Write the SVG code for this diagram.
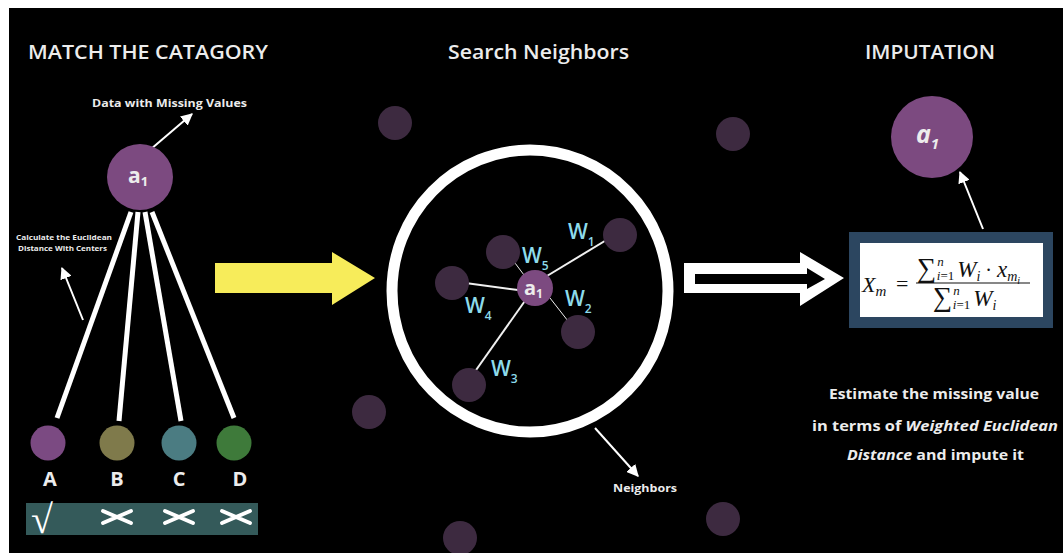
<svg xmlns="http://www.w3.org/2000/svg" width="1063" height="553" viewBox="0 0 1063 553">
<defs>
<style>
.t{font-family:"Open Sans","Liberation Sans",sans-serif;font-weight:700;fill:#ececec}
.h{font-size:19px;font-weight:600}
.w{font-family:"Open Sans","Liberation Sans",sans-serif;font-weight:600;fill:#8ddbeb}
.bg{fill:#3d2a40}
.pur{fill:#7c4a80}
.m{font-family:"Liberation Serif","DejaVu Serif",serif;font-style:italic;fill:#111}
.mr{font-family:"Liberation Serif","DejaVu Serif",serif;fill:#111}
</style>
<marker id="ah2" viewBox="0 0 10 10" refX="9" refY="5" markerWidth="12" markerHeight="12" orient="auto" markerUnits="userSpaceOnUse">
<path d="M0,0 L10,5 L0,10 z" fill="#fff"/>
</marker>
</defs>
<rect x="0" y="0" width="1063" height="553" fill="#fff"/>
<rect x="9" y="8" width="1054" height="545" fill="#000"/>

<g id="headers">
<text class="t h" x="28" y="59" textLength="240" lengthAdjust="spacingAndGlyphs">MATCH THE CATAGORY</text>
<text class="t h" x="448" y="59" textLength="181" lengthAdjust="spacingAndGlyphs">Search Neighbors</text>
<text class="t h" x="865" y="59" textLength="130" lengthAdjust="spacingAndGlyphs">IMPUTATION</text>
</g>

<g id="background-dots">
<circle class="bg" cx="395" cy="123" r="17"/>
<circle class="bg" cx="733" cy="134" r="17"/>
<circle class="bg" cx="369" cy="412" r="17"/>
<circle class="bg" cx="460" cy="538" r="17"/>
<circle class="bg" cx="723" cy="519" r="17"/>
</g>

<g id="connectors">
<line x1="144" y1="155" x2="192" y2="114" stroke="#fff" stroke-width="2" marker-end="url(#ah2)"/>
<line x1="83" y1="320" x2="62" y2="268" stroke="#fff" stroke-width="2" marker-end="url(#ah2)"/>
<g stroke="#fff" stroke-width="5">
<line x1="131" y1="212" x2="57" y2="418"/>
<line x1="138" y1="212" x2="119" y2="421"/>
<line x1="145" y1="212" x2="181" y2="421"/>
<line x1="152" y1="212" x2="234" y2="418"/>
</g>
<line x1="595" y1="428" x2="638" y2="476" stroke="#fff" stroke-width="2" marker-end="url(#ah2)"/>
<line x1="983" y1="229" x2="960" y2="172" stroke="#fff" stroke-width="2" marker-end="url(#ah2)"/>
<g stroke="#f0f0f0">
<line x1="542" y1="279" x2="613" y2="236" stroke-width="2"/>
<line x1="506" y1="251" x2="524" y2="275" stroke-width="1"/>
<line x1="458" y1="282" x2="518" y2="290" stroke-width="2"/>
<line x1="550" y1="298" x2="575" y2="330" stroke-width="1"/>
<line x1="527" y1="298" x2="469" y2="380" stroke-width="2"/>
</g>
</g>

<g id="a1-left">
<circle class="pur" cx="140" cy="177" r="33"/>
<text class="t" x="128" y="183" font-size="21" font-weight="600">a<tspan font-size="13" dy="3">1</tspan></text>
</g>
<text class="t" x="92" y="107" font-size="11" textLength="155" lengthAdjust="spacingAndGlyphs">Data with Missing Values</text>
<g id="calc-label">
<text class="t" x="16" y="240" font-size="7.5" textLength="96" lengthAdjust="spacingAndGlyphs">Calculate the Euclidean</text>
<text class="t" x="18" y="251" font-size="7.5" textLength="89" lengthAdjust="spacingAndGlyphs">Distance With Centers</text>
</g>

<g id="cat-A"><circle cx="48" cy="443" r="17.5" fill="#7b4a82"/><text class="t" x="50" y="486" font-size="20" font-weight="600" text-anchor="middle">A</text></g>
<g id="cat-B"><circle cx="117" cy="443" r="17.5" fill="#7f7a4b"/><text class="t" x="117" y="486" font-size="20" font-weight="600" text-anchor="middle">B</text></g>
<g id="cat-C"><circle cx="179" cy="443" r="17.5" fill="#4b7c82"/><text class="t" x="179" y="486" font-size="20" font-weight="600" text-anchor="middle">C</text></g>
<g id="cat-D"><circle cx="234" cy="443" r="17.5" fill="#3e7a3a"/><text class="t" x="240" y="486" font-size="20" font-weight="600" text-anchor="middle">D</text></g>

<g id="result-bar">
<rect x="26" y="503" width="232" height="32" fill="#345a5a"/>
<text x="31" y="533" font-family="Liberation Serif,serif" font-size="40" font-weight="400" fill="#fff">√</text>
<g stroke="#fff" stroke-width="4" stroke-linecap="round">
<path d="M103,511 L131,523 M103,523 L131,511"/>
<path d="M165,511 L193,523 M165,523 L193,511"/>
<path d="M222,511 L250,523 M222,523 L250,511"/>
</g>
</g>

<g id="yellow-arrow">
<path d="M215,263 H332 V252 L375,278 L332,305 V293 H215 Z" fill="#f7ec5a"/>
</g>

<g id="neighbors-ring">
<ellipse cx="530" cy="291" rx="138" ry="141" fill="none" stroke="#fff" stroke-width="11"/>
</g>

<g id="n1"><circle class="bg" cx="620" cy="235" r="17"/></g>
<g id="n5"><circle class="bg" cx="503" cy="252" r="17"/></g>
<g id="n4"><circle class="bg" cx="452" cy="283" r="17"/></g>
<g id="n2"><circle class="bg" cx="578" cy="332" r="17"/></g>
<g id="n3"><circle class="bg" cx="469" cy="385" r="17"/></g>
<g id="a1-center">
<circle class="pur" cx="535" cy="288" r="18"/>
<text class="t" x="524" y="295" font-size="20" font-weight="600">a<tspan font-size="12" dy="3">1</tspan></text>
</g>
<g id="w-labels">
<text class="w" x="568" y="239" font-size="21">W<tspan font-size="12" dy="7">1</tspan></text>
<text class="w" x="522" y="263" font-size="21">W<tspan font-size="12" dy="7">5</tspan></text>
<text class="w" x="465" y="313" font-size="21">W<tspan font-size="12" dy="7">4</tspan></text>
<text class="w" x="565" y="306" font-size="21">W<tspan font-size="12" dy="7">2</tspan></text>
<text class="w" x="491" y="376" font-size="21">W<tspan font-size="12" dy="7">3</tspan></text>
</g>
<text class="t" x="613" y="492" font-size="11" textLength="64" lengthAdjust="spacingAndGlyphs">Neighbors</text>

<g id="hollow-arrow">
<path d="M684,263 H800 V252 L844,278 L800,306 V293 H684 Z" fill="#fff"/>
<path d="M695,274 H807 V268 L825,279 L807,289 V284 H695 Z" fill="#000"/>
</g>

<g id="formula-box">
<rect x="849" y="232" width="204" height="96" fill="#2c4660"/>
<rect x="860" y="243" width="183" height="74" fill="#fff"/>
<text class="m" x="862" y="292" font-size="22">X<tspan font-size="15" dy="4">m</tspan></text>
<text class="mr" x="896" y="291" font-size="22">=</text>
<line x1="916" y1="283" x2="1030" y2="283" stroke="#111" stroke-width="1.2"/>
<text class="mr" x="917" y="277" font-size="27">∑<tspan class="m" font-size="13" dy="-11" dx="1">n</tspan><tspan class="m" font-size="13" dy="14" dx="-7">i</tspan><tspan font-size="13">=1</tspan><tspan class="m" font-size="23" dy="-3" dx="3">W</tspan><tspan class="m" font-size="14" dy="4">i</tspan><tspan font-size="20" dy="-4"> · </tspan><tspan class="m" font-size="23">x</tspan><tspan class="m" font-size="14" dy="4">m</tspan><tspan class="m" font-size="10" dy="3">i</tspan></text>
<text class="mr" x="933" y="306" font-size="27">∑<tspan class="m" font-size="13" dy="-11" dx="1">n</tspan><tspan class="m" font-size="13" dy="14" dx="-7">i</tspan><tspan font-size="13">=1</tspan><tspan class="m" font-size="23" dy="-3" dx="3">W</tspan><tspan class="m" font-size="14" dy="4">i</tspan></text>
</g>

<g id="a1-right">
<circle class="pur" cx="932" cy="137" r="41"/>
<text class="t" x="916" y="143" font-size="25" font-style="italic">a<tspan font-size="15" dy="6">1</tspan></text>
</g>

<g id="estimate-text" font-size="14">
<text class="t" x="829" y="399" textLength="210" lengthAdjust="spacingAndGlyphs">Estimate the missing value</text>
<text class="t" x="812" y="431" textLength="246" lengthAdjust="spacingAndGlyphs">in terms of <tspan font-style="italic">Weighted Euclidean</tspan></text>
<text class="t" x="847" y="460" textLength="177" lengthAdjust="spacingAndGlyphs"><tspan font-style="italic">Distance</tspan> and impute it</text>
</g>
</svg>
